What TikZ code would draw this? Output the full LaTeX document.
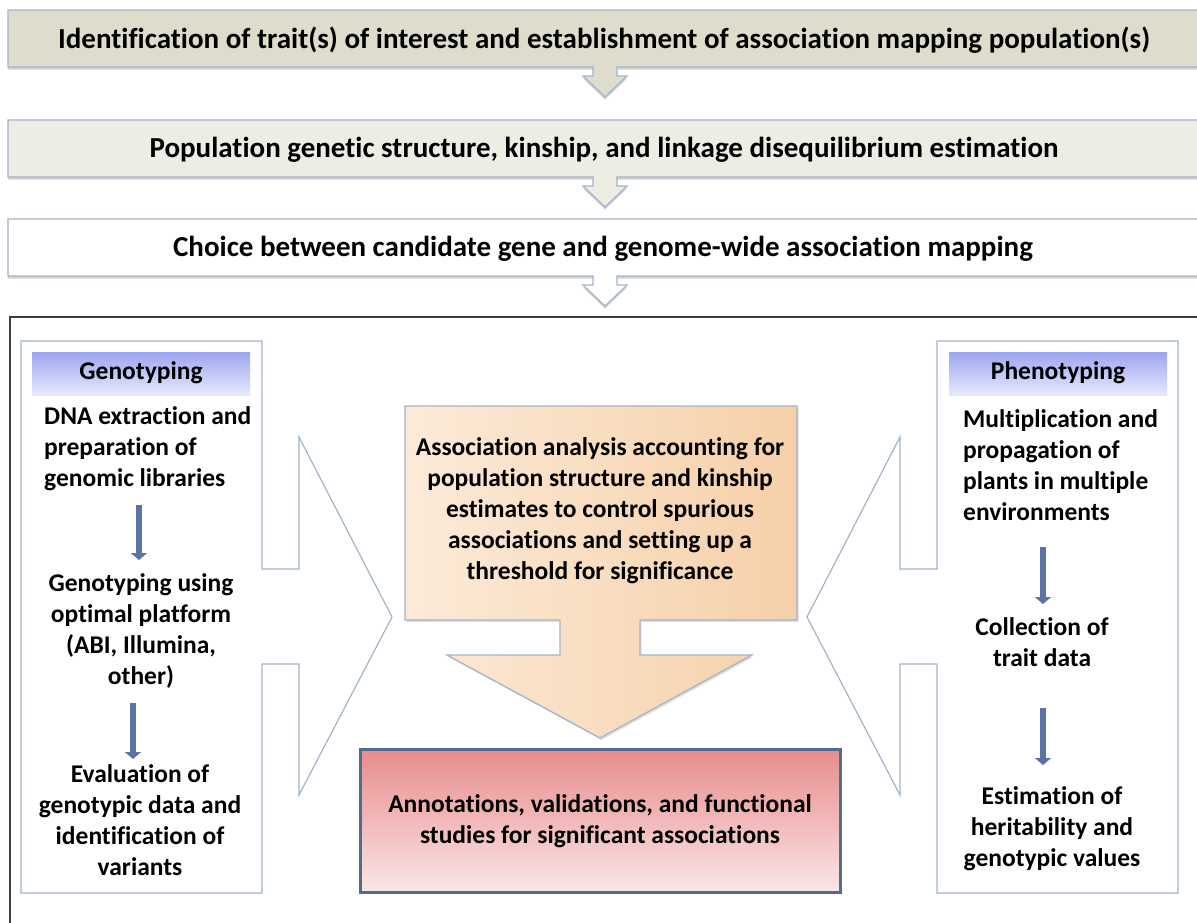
\documentclass[tikz,border=0pt]{standalone}
\usepackage{fontspec}
\setmainfont{Carlito}[Ligatures=NoCommon]
\usetikzlibrary{arrows.meta,shadows}
\definecolor{bannerA}{HTML}{DEDCCA}
\definecolor{bannerB}{HTML}{EEEDE4}
\definecolor{edgeblue}{HTML}{A2B4CA}
\definecolor{framegray}{HTML}{3E3E3E}
\definecolor{headtop}{HTML}{9CA5F0}
\definecolor{headbot}{HTML}{E6E9FB}
\definecolor{peachL}{HTML}{FCEAD8}
\definecolor{peachR}{HTML}{F5D0A8}
\definecolor{redtop}{HTML}{E88C8C}
\definecolor{redbot}{HTML}{FAE6E6}
\definecolor{rededge}{HTML}{536A92}
\definecolor{arrowblue}{HTML}{5A74A6}
\begin{document}
\begin{tikzpicture}[x=1pt,y=-1pt,
  txt/.style={font=\fontsize{25.5}{31}\selectfont\bfseries, text=black, inner sep=0pt},
  bigtxt/.style={font=\fontsize{29}{34}\selectfont\bfseries, text=black, inner sep=0pt},
  banner/.style={draw=edgeblue, line width=1.2pt, drop shadow={shadow xshift=0pt, shadow yshift=-2.5pt, opacity=0.35, fill=gray}},
  panel/.style={draw=edgeblue, line width=1.2pt, fill=white},
  hdr/.style={top color=headtop, bottom color=headbot, draw=none},
  stepArrow/.style={draw=arrowblue, line width=6.5pt, -{Triangle[width=16pt,length=7pt]}},
]
\useasboundingbox (0,0) rectangle (1197,922);
\clip (0,0) rectangle (1197,922);
\fill[white] (0,0) rectangle (1197,922);

% top banners
\path[banner, fill=bannerA] (8,10) -- (1210,10) -- (1210,67) -- (617,67) -- (617,76) -- (627,76) -- (605,97) -- (583,76) -- (593,76) -- (593,67) -- (8,67) -- cycle;
\path[banner, fill=bannerB] (8,120) -- (1210,120) -- (1210,177) -- (617,177) -- (617,186) -- (627,186) -- (605,207) -- (583,186) -- (593,186) -- (593,177) -- (8,177) -- cycle;
\path[banner, fill=white] (8,219) -- (1210,219) -- (1210,276) -- (617,276) -- (617,285) -- (627,285) -- (605,306) -- (583,285) -- (593,285) -- (593,276) -- (8,276) -- cycle;

\node[bigtxt] (t1) at (604,40) {Identification of trait(s) of interest and establishment of association mapping population(s)};
\node[bigtxt] (t2) at (604,150) {Population genetic structure, kinship, and linkage disequilibrium estimation};
\node[bigtxt] (t3) at (603,249) {Choice between candidate gene and genome-wide association mapping};

% outer frame
\draw[framegray, line width=1.6pt] (10,317) rectangle (1215,940);

% left panel
\path[panel] (21,341) -- (262,341) -- (262,569) -- (299,569) -- (299,437) -- (392,617) -- (299,795) -- (299,664) -- (262,664) -- (262,893) -- (21,893) -- cycle;
\fill[hdr] (32,352) rectangle (250,395);
\node[txt] (gh) at (141,373) {Genotyping};
\node[txt, anchor=west, align=left] (g1) at (44,449) {DNA extraction and\\preparation of\\genomic libraries};
\node[txt, align=center] (g2) at (141,631) {Genotyping using\\optimal platform\\(ABI, Illumina,\\other)};
\node[txt, align=center] (g3) at (140,820) {Evaluation of\\genotypic data and\\identification of\\variants};
\coordinate (ga1) at (139,505);
\coordinate (ga2) at (139,560);
\coordinate (gb1) at (133,703);
\coordinate (gb2) at (133,759);
\draw[stepArrow] (ga1) -- (ga2);
\draw[stepArrow] (gb1) -- (gb2);

% right panel
\path[panel] (1178,341) -- (937,341) -- (937,569) -- (900,569) -- (900,437) -- (807,617) -- (900,795) -- (900,664) -- (937,664) -- (937,893) -- (1178,893) -- cycle;
\fill[hdr] (949,352) rectangle (1167,395);
\node[txt] (ph) at (1058,373) {Phenotyping};
\node[txt, anchor=west, align=left] (p1) at (963,465) {Multiplication and\\propagation of\\plants in multiple\\environments};
\node[txt, align=center] (p2) at (1042,642) {Collection of\\trait data};
\node[txt, align=center] (p3) at (1052,829) {Estimation of\\heritability and\\genotypic values};
\coordinate (pa1) at (1043,547);
\coordinate (pa2) at (1043,604);
\coordinate (pb1) at (1043,708);
\coordinate (pb2) at (1043,765);
\draw[stepArrow] (pa1) -- (pa2);
\draw[stepArrow] (pb1) -- (pb2);

% center callout
\path[draw=edgeblue, line width=1.2pt, left color=peachL, right color=peachR,
  drop shadow={shadow xshift=1.5pt, shadow yshift=-2pt, opacity=0.25, fill=gray}]
  (405,406) -- (797,406) -- (797,620) -- (640,620) -- (640,655) -- (752,655) -- (600,738) -- (447,655) -- (560,655) -- (560,620) -- (405,620) -- cycle;
\node[txt, align=center] (c1) at (600,511) {Association analysis accounting for\\population structure and kinship\\estimates to control spurious\\associations and setting up a\\threshold for significance};

% bottom red box
\path[draw=rededge, line width=3pt, top color=redtop, bottom color=redbot] (360,749) rectangle (840,892);
\node[txt, align=center] (r1) at (600,821) {Annotations, validations, and functional\\studies for significant associations};
\end{tikzpicture}
\end{document}
